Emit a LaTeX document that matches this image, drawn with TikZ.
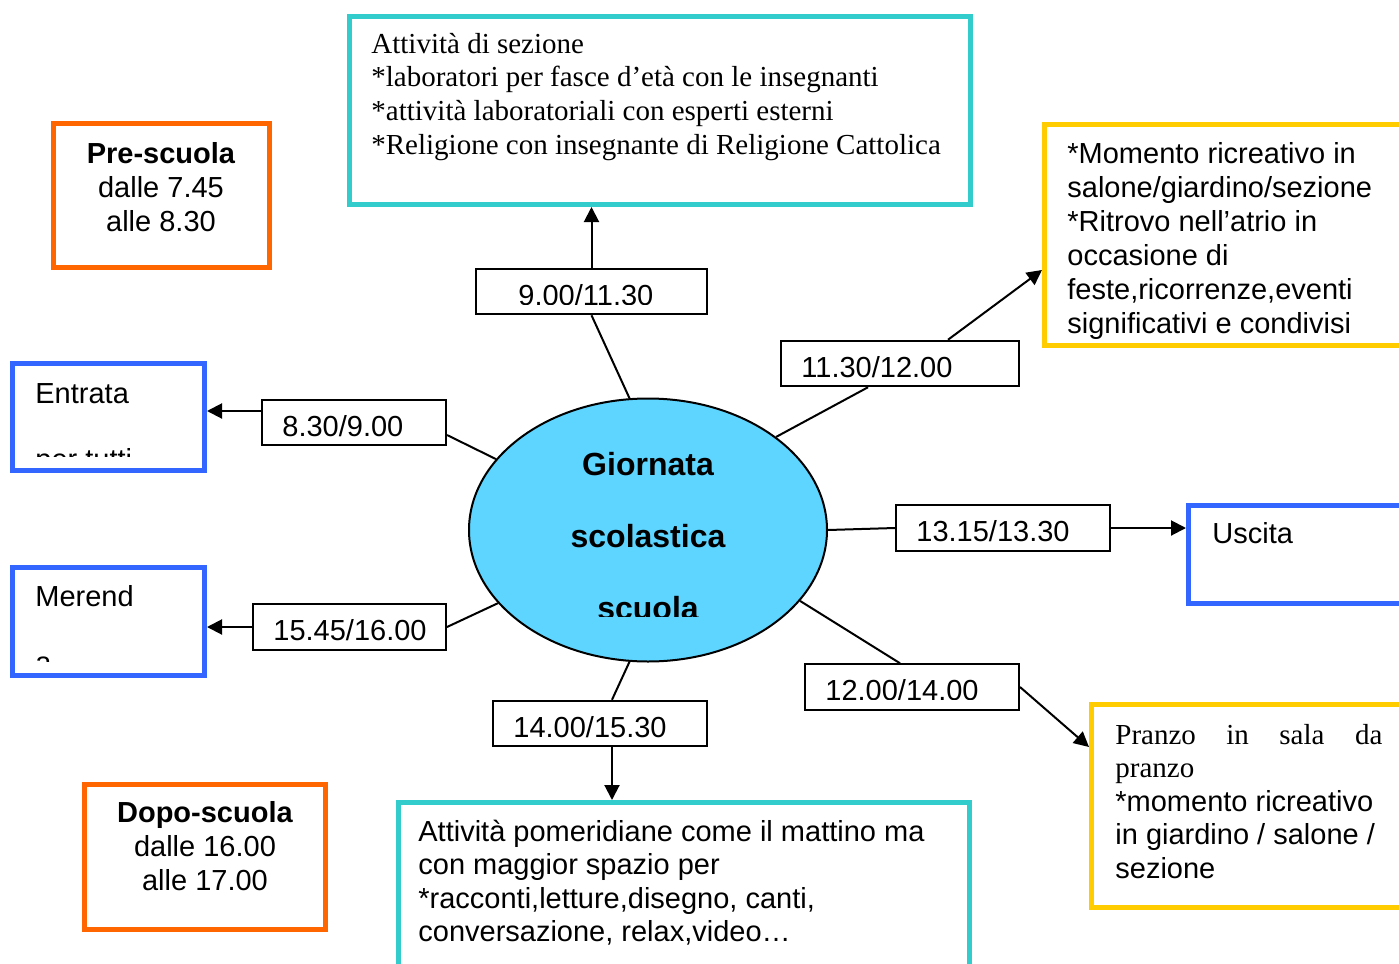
\documentclass[tikz,border=0pt]{standalone}
\usepackage{fontspec}
\setmainfont{Liberation Serif}
\setsansfont{Liberation Sans}
\usepackage{xcolor}
\usepackage{tikz}
\usetikzlibrary{shapes.geometric,arrows.meta}

\definecolor{orangebox}{RGB}{255,102,0}
\definecolor{tealbox}{RGB}{51,204,204}
\definecolor{yellowbox}{RGB}{255,204,0}
\definecolor{bluebox}{RGB}{51,102,255}
\definecolor{ellblue}{RGB}{93,213,255}
\newcommand{\sanstxt}{\sffamily\fontsize{14.5}{17}\selectfont}
\newcommand{\serftxt}{\rmfamily\fontsize{14.5}{16.8}\selectfont}

\begin{document}
\begin{tikzpicture}[x=0.5pt, y=-0.5pt,
    frame/.style={shape=rectangle, draw, line width=2.5pt, inner sep=0pt},
    lbl/.style={shape=rectangle, draw, line width=1pt, inner sep=0pt, minimum height=22.75pt},
    lbltxt/.style={anchor=base west, inner sep=0pt, font=\sanstxt},
    txt/.style={inner sep=0pt, font=\sanstxt},
    elltxt/.style={anchor=base, inner sep=0pt, font=\sffamily\bfseries\fontsize{16}{19}\selectfont},
    conn/.style={line width=1pt},
    arr/.style={line width=1pt, -{Triangle[length=7.5pt,width=7.5pt]}}]
  \useasboundingbox (0,0) rectangle (1399,964);

  % coloured boxes
  \node[frame, draw=orangebox, minimum width=108pt, minimum height=72pt] (pre) at (161,195) {};
  \node[frame, draw=tealbox, minimum width=310.5pt, minimum height=94pt] (sez) at (660,110.5) {};
  \node[frame, draw=yellowbox, minimum width=187.75pt, minimum height=110.5pt] (ricr) at (1232.25,235) {};
  \node[frame, draw=bluebox, minimum width=96pt, minimum height=53.5pt] (ent) at (108.5,417) {};
  \node[frame, draw=bluebox, minimum width=96pt, minimum height=54.25pt] (mer) at (108.5,621.25) {};
  \node[frame, draw=bluebox, minimum width=115.75pt, minimum height=49pt] (usc) at (1304.25,554.5) {};
  \node[frame, draw=yellowbox, minimum width=164.25pt, minimum height=101.5pt] (pra) at (1255.75,806) {};
  \node[frame, draw=tealbox, minimum width=285.5pt, minimum height=95pt] (pom) at (684,897.5) {};
  \node[frame, draw=orangebox, minimum width=120.5pt, minimum height=72.5pt] (dopo) at (205,857) {};

  % centre
  \node[ellipse, draw, fill=ellblue, line width=1pt, inner sep=0pt,
        minimum width=179pt, minimum height=131.5pt] (ell) at (648,530) {};

  % time labels
  \node[lbl, minimum width=115.5pt] (l1) at (591.5,291.5) {};
  \node[lbl, minimum width=119pt] (l2) at (900,363.5) {};
  \node[lbl, minimum width=92pt] (l3) at (354,422.5) {};
  \node[lbl, minimum width=107pt] (l4) at (1003,528) {};
  \node[lbl, minimum width=96.5pt] (l5) at (349.5,627) {};
  \node[lbl, minimum width=107pt] (l6) at (912,687) {};
  \node[lbl, minimum width=107pt] (l7) at (600,723.5) {};

  \begin{scope}
    \clip (470,260) rectangle (715,304);
    \node[lbltxt] (t1) at ([xshift=21.5pt,yshift=-6.75pt]l1.west) {9.00/11.30};
  \end{scope}
  \node[lbltxt] (t2) at ([xshift=10.5pt,yshift=-6.75pt]l2.west) {11.30/12.00};
  \node[lbltxt] (t3) at ([xshift=10.5pt,yshift=-6.75pt]l3.west) {8.30/9.00};
  \node[lbltxt] (t4) at ([xshift=10.5pt,yshift=-6.75pt]l4.west) {13.15/13.30};
  \node[lbltxt] (t5) at ([xshift=10.5pt,yshift=-6.75pt]l5.west) {15.45/16.00};
  \begin{scope}
    \clip (800,655) rectangle (1025,699);
    \node[lbltxt] (t6) at ([xshift=10.5pt,yshift=-6.75pt]l6.west) {12.00/14.00};
  \end{scope}
  \node[lbltxt] (t7) at ([xshift=10.5pt,yshift=-6.75pt]l7.west) {14.00/15.30};

  % texts (base = last line)
  \node[txt, align=center, anchor=base] (pretxt) at (161,231) {\textbf{Pre-scuola}\\dalle 7.45\\alle 8.30};
  \node[txt, align=left, anchor=base west, font=\serftxt] (seztxt) at (371,154)
    {Attività di sezione\\{*}laboratori per fasce d’età con le insegnanti\\{*}attività laboratoriali con esperti esterni\\{*}Religione con insegnante di Religione Cattolica};
  \node[txt, align=left, anchor=base west] (ricrtxt) at (1067,333)
    {{*}Momento ricreativo in\\salone/giardino/sezione\\{*}Ritrovo nell’atrio in\\occasione di\\feste,ricorrenze,eventi\\significativi e condivisi};
  \begin{scope}
    \clip (16,366) rectangle (202,456);
    \node[txt, align=left, anchor=base west, font=\sffamily\fontsize{14.5}{33}\selectfont] (enttxt) at (35,469) {Entrata\\per tutti};
  \end{scope}
  \begin{scope}
    \clip (16,570) rectangle (202,661);
    \node[txt, align=left, anchor=base west, font=\sffamily\fontsize{14.5}{33}\selectfont] (mertxt) at (35,672) {Merend\\a};
  \end{scope}
  \node[txt, anchor=base west] (usctxt) at (1212,543) {Uscita};
  \node[txt, align=left, anchor=base west, font=\sffamily\fontsize{14.5}{16.75}\selectfont] (pratxt) at (1115,878)
    {{\rmfamily\makebox[133.5pt][s]{Pranzo in sala da}}\\{\rmfamily pranzo}\\{*}momento ricreativo\\in giardino / salone /\\sezione};
  \node[txt, align=left, anchor=base west, font=\sffamily\fontsize{14.5}{16.75}\selectfont] (pomtxt) at (418,941.5)
    {Attività pomeridiane come il mattino ma\\con maggior spazio per\\{*}racconti,letture,disegno, canti,\\conversazione, relax,video…};
  \node[txt, align=center, anchor=base] (dopotxt) at (205,890) {\textbf{Dopo-scuola}\\dalle 16.00\\alle 17.00};

  \begin{scope}
    \clip (460,390) rectangle (840,616.5);
    \node[elltxt] (g1) at (648,475) {Giornata};
    \node[elltxt] (g2) at (648,547) {scolastica};
    \node[elltxt] (g3) at (648,619) {scuola};
  \end{scope}

  % connectors
  \draw[conn] (ell.98) -- (l1.south);
  \draw[arr] (l1.north) -- (l1.north |- sez.south);
  \draw[conn] (ell.36) -- ([xshift=-16pt]l2.south);
  \draw[arr] ([xshift=24pt]l2.north) -- ([yshift=-17.5pt]ricr.west);
  \coordinate (l3w) at ([yshift=5.75pt]l3.west);
  \draw[conn] (ell.155) -- ([yshift=-6.25pt]l3.east);
  \draw[arr] (l3w) -- (l3w -| ent.east);
  \draw[conn] (ell.0) -- (l4.west);
  \draw[arr] (l4.east) -- (l4.east -| usc.west);
  \draw[conn] (ell.206) -- (l5.east);
  \draw[arr] (l5.west) -- (l5.west -| mer.east);
  \draw[conn] (ell.-25) -- ([xshift=-6pt]l6.north);
  \draw[arr] (l6.east) -- ([yshift=29.5pt]pra.west);
  \coordinate (l7s) at ([xshift=6pt]l7.south);
  \draw[conn] (ell.262) -- ([xshift=6pt]l7.north);
  \draw[arr] (l7s) -- (l7s |- pom.north);
\end{tikzpicture}
\end{document}
